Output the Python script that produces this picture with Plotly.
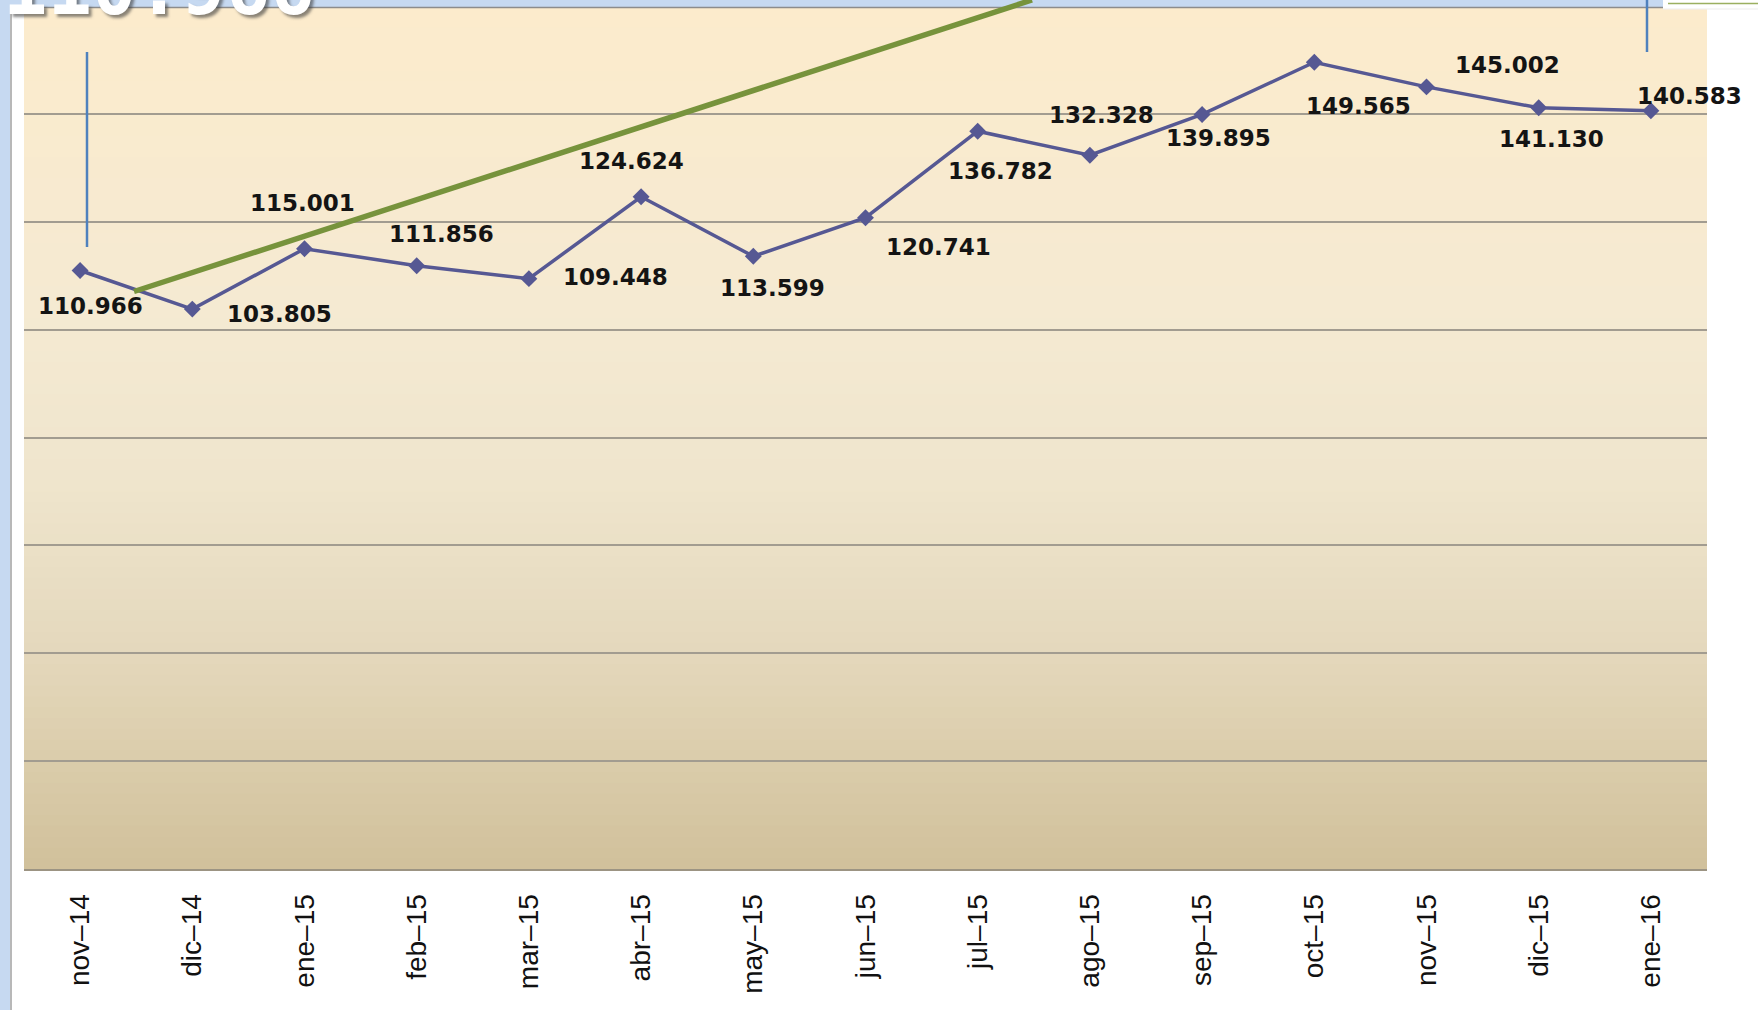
import plotly.graph_objects as go

# ---- data ----
months = ["nov–14", "dic–14", "ene–15", "feb–15", "mar–15", "abr–15", "may–15",
          "jun–15", "jul–15", "ago–15", "sep–15", "oct–15", "nov–15", "dic–15", "ene–16"]
values = [110.966, 103.805, 115.001, 111.856, 109.448, 124.624, 113.599,
          120.741, 136.782, 132.328, 139.895, 149.565, 145.002, 141.130, 140.583]
value_labels = ["110.966", "103.805", "115.001", "111.856", "109.448", "124.624", "113.599",
                "120.741", "136.782", "132.328", "139.895", "149.565", "145.002", "141.130", "140.583"]
headline = "110.966"

# ---- label placement (pixel offsets from each point: right, down) ----
label_dx = [10, 87, -2, 25, 87, -10, 19, 73, 23, 12, 16, 44, 81, 13, 39]
label_dy = [36, 5, -46, -32, -2, -36, 32, 29, 40, -40, 24, 44, -22, 31, -15]

W, H = 1758, 1010
L, R, T, B = 24, 51, 6, 141
PW, PH = W - L - R, H - T - B


def px(xp):
    return (xp - L) / PW


def py(yp):
    return (H - B - yp) / PH


def hex2rgb(h):
    h = h.lstrip("#")
    return tuple(int(h[i:i + 2], 16) for i in (0, 2, 4))


stops = [(0.0, "#D0C09B"), (0.12, "#DACCAA"), (0.25, "#E4D8BC"), (0.45, "#EFE5CD"),
         (0.65, "#F5EAD2"), (1.0, "#FCEBCC")]


def color_at(t):
    for (t0, c0), (t1, c1) in zip(stops[:-1], stops[1:]):
        if t0 <= t <= t1:
            f = (t - t0) / (t1 - t0)
            a, b = hex2rgb(c0), hex2rgb(c1)
            return "rgb(%d,%d,%d)" % tuple(round(a[i] + (b[i] - a[i]) * f) for i in range(3))
    return stops[-1][1]


shapes = []
N = 80
for i in range(N):
    y0 = i / N
    y1 = (i + 1) / N
    shapes.append(dict(type="rect", xref="paper", yref="paper", x0=0, x1=1, y0=y0, y1=y1 + 0.002,
                       fillcolor=color_at((y0 + y1) / 2), line=dict(width=0), layer="below"))

# frame / decoration elements
blue_strip = "#C6D9F1"
shapes += [
    # left blue strip and thin gray rule
    dict(type="rect", xref="paper", yref="paper", x0=px(0), x1=px(10), y0=py(H), y1=py(0),
         fillcolor=blue_strip, line=dict(width=0), layer="above"),
    dict(type="line", xref="paper", yref="paper", x0=px(11), x1=px(11), y0=py(H), y1=py(7),
         line=dict(color="#A0A0A0", width=1.5), layer="above"),
    # top blue strip and gray rule
    dict(type="rect", xref="paper", yref="paper", x0=px(0), x1=px(1663), y0=py(7), y1=py(0),
         fillcolor=blue_strip, line=dict(width=0), layer="above"),
    dict(type="line", xref="paper", yref="paper", x0=px(10), x1=px(1663), y0=py(7.5), y1=py(7.5),
         line=dict(color="#8C8C8C", width=1.5), layer="above"),
    # top-right white patch with thin green rule
    dict(type="rect", xref="paper", yref="paper", x0=px(1663), x1=px(W), y0=py(9), y1=py(0),
         fillcolor="white", line=dict(width=0), layer="above"),
    dict(type="line", xref="paper", yref="paper", x0=px(1668), x1=px(W), y0=py(3.5), y1=py(3.5),
         line=dict(color="#9BB060", width=1.5), layer="above"),
    dict(type="line", xref="paper", yref="paper", x0=px(1663), x1=px(W), y0=py(9), y1=py(9),
         line=dict(color="#EDEDED", width=1), layer="above"),
    # blue vertical pointers
    dict(type="line", xref="paper", yref="paper", x0=px(87), x1=px(87), y0=py(247), y1=py(52),
         line=dict(color="#4F81BD", width=2.5), layer="above"),
    dict(type="line", xref="paper", yref="paper", x0=px(1647), x1=px(1647), y0=py(52), y1=py(0),
         line=dict(color="#4F81BD", width=2.5), layer="above"),
    # green trend arrow
    dict(type="line", xref="paper", yref="paper", x0=px(134), x1=px(1032), y0=py(291.5), y1=py(0),
         line=dict(color="#77933C", width=5.5), layer="above"),
]

fig = go.Figure()
fig.add_trace(go.Scatter(
    x=months, y=values, mode="lines+markers",
    line=dict(color="#565893", width=3.5),
    marker=dict(symbol="diamond", size=13, color="#565893"),
    hoverinfo="skip", showlegend=False, cliponaxis=False,
))

annotations = []
for m, v, t, dx, dy in zip(months, values, value_labels, label_dx, label_dy):
    annotations.append(dict(
        x=m, y=v, xref="x", yref="y", text=t, showarrow=False,
        xanchor="center", yanchor="middle", xshift=dx, yshift=-dy,
        font=dict(family="DejaVu Sans", size=23, color="#141414", weight="bold"),
    ))

annotations.append(dict(
    x=px(1), y=py(33), xref="paper", yref="paper", text=headline, showarrow=False,
    xanchor="left", yanchor="bottom",
    font=dict(family="DejaVu Sans Mono", size=74, color="white", weight="bold",
              shadow="3px 3px 3px rgba(60,60,60,0.6)"),
))

fig.update_layout(
    width=W, height=H,
    margin=dict(l=L, r=R, t=T, b=B, pad=0),
    paper_bgcolor="white", plot_bgcolor="rgba(0,0,0,0)",
    shapes=shapes, annotations=annotations,
    xaxis=dict(type="category", range=[-0.5, len(months) - 0.5], showgrid=False,
               showline=True, linecolor="#9C9483", linewidth=2,
               tickangle=-90, ticks="", ticklabelstandoff=12,
               tickfont=dict(family="Liberation Sans", size=28, color="#111111"),
               zeroline=False, fixedrange=True),
    yaxis=dict(range=[0, 160], dtick=20, showgrid=True, gridcolor="#A29C90", gridwidth=1.5,
               showticklabels=False, ticks="", zeroline=False, showline=False, fixedrange=True),
)

fig.write_html("out.html", config={"displayModeBar": False},
               post_script="document.body.style.margin='0';document.body.style.overflow='hidden';")
